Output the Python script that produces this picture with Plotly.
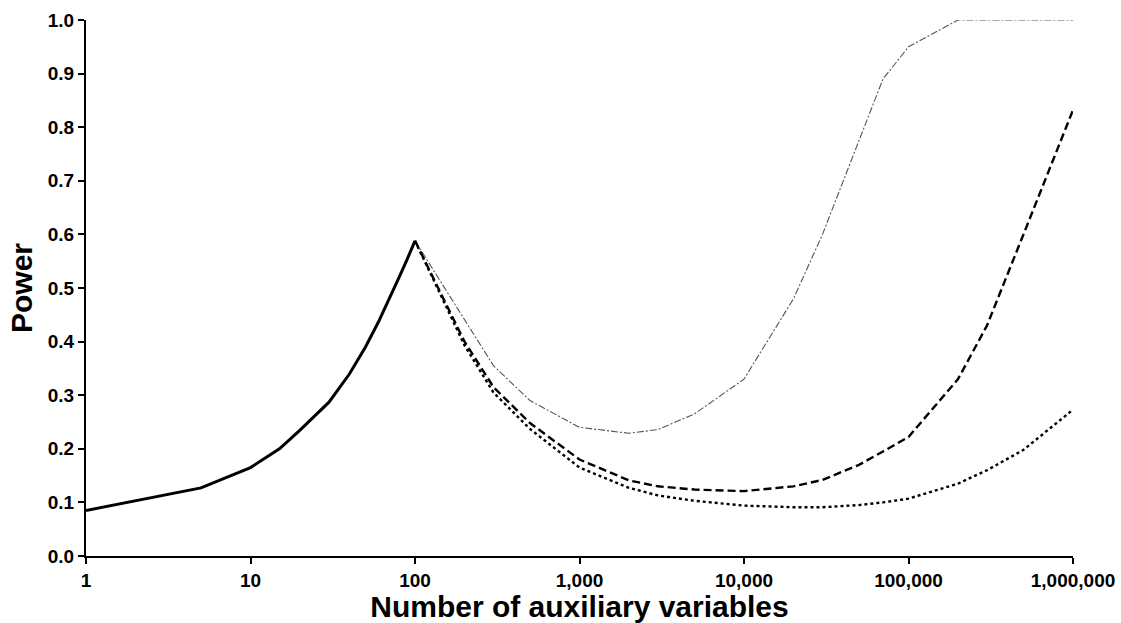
import plotly.graph_objects as go

# Shared part (all scenarios identical up to 100 auxiliary variables)
x_shared = [1, 5, 10, 15, 20, 30, 40, 50, 60, 70, 80, 90, 100]
y_shared = [0.085, 0.127, 0.165, 0.200, 0.235, 0.287, 0.340, 0.390, 0.437, 0.480, 0.520, 0.555, 0.588]

# Divergent part
x_tail = [100, 200, 300, 500, 1000, 2000, 3000, 5000, 10000, 20000, 30000, 50000, 70000,
          100000, 200000, 300000, 500000, 1000000]
y_dashdot = [0.588, 0.440, 0.355, 0.290, 0.240, 0.229, 0.236, 0.265, 0.330, 0.480, 0.600,
             0.775, 0.890, 0.950, 1.000, 1.000, 1.000, 1.000]
y_dashed = [0.588, 0.400, 0.315, 0.248, 0.180, 0.141, 0.130, 0.124, 0.121, 0.130, 0.142,
            0.170, 0.195, 0.222, 0.330, 0.430, 0.600, 0.832]
y_dotted = [0.588, 0.393, 0.305, 0.237, 0.165, 0.127, 0.113, 0.103, 0.094, 0.091, 0.091,
            0.095, 0.100, 0.107, 0.135, 0.160, 0.198, 0.273]

x_tickvals = [1, 10, 100, 1000, 10000, 100000, 1000000]
x_ticktext = ["1", "10", "100", "1,000", "10,000", "100,000", "1,000,000"]
y_tickvals = [0.0, 0.1, 0.2, 0.3, 0.4, 0.5, 0.6, 0.7, 0.8, 0.9, 1.0]
y_ticktext = ["0.0", "0.1", "0.2", "0.3", "0.4", "0.5", "0.6", "0.7", "0.8", "0.9", "1.0"]

fig = go.Figure()
fig.add_trace(go.Scatter(x=x_tail, y=y_dashdot, mode="lines",
                         line=dict(color="#555555", width=1.1, dash="7px,2px,2px,2px"),
                         showlegend=False))
fig.add_trace(go.Scatter(x=x_tail, y=y_dashed, mode="lines",
                         line=dict(color="black", width=2.4, dash="8px,4px"), showlegend=False))
fig.add_trace(go.Scatter(x=x_tail, y=y_dotted, mode="lines",
                         line=dict(color="black", width=2.4, dash="3px,3px"), showlegend=False))
fig.add_trace(go.Scatter(x=x_shared, y=y_shared, mode="lines",
                         line=dict(color="black", width=3), showlegend=False))

font_family = "Liberation Sans, Arial, sans-serif"
fig.update_layout(
    width=1121, height=623,
    margin=dict(l=86, r=48, t=20, b=67, autoexpand=False),
    paper_bgcolor="white", plot_bgcolor="white",
    font=dict(family=font_family, color="black"),
)
fig.update_xaxes(
    type="log", range=[0, 6], automargin=False,
    tickvals=x_tickvals, ticktext=x_ticktext,
    tickfont=dict(size=19, family=font_family, weight="bold"),
    showline=True, linecolor="black", linewidth=2,
    ticks="outside", ticklen=6, tickwidth=2, tickcolor="black",
    showgrid=False, zeroline=False,
    title=dict(text="Number of auxiliary variables",
               font=dict(size=30, family=font_family, weight="bold"), standoff=2),
)
fig.update_yaxes(
    range=[0, 1.0], automargin=False,
    tickvals=y_tickvals, ticktext=y_ticktext,
    tickfont=dict(size=19, family=font_family, weight="bold"),
    showline=True, linecolor="black", linewidth=2,
    ticks="outside", ticklen=6, tickwidth=2, tickcolor="black",
    showgrid=False, zeroline=False,
    title=dict(text="Power", font=dict(size=30, family=font_family, weight="bold"), standoff=6),
)

fig.write_html("out.html")
